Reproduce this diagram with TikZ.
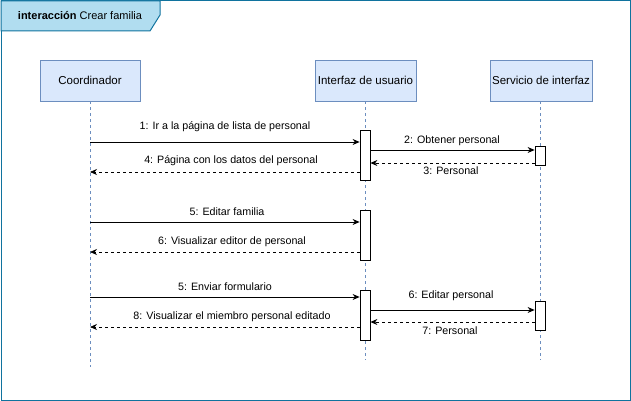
\documentclass[tikz,border=0pt]{standalone}
\usepackage{fontspec}
\setmainfont{Liberation Sans}
\usetikzlibrary{arrows.meta}
\definecolor{frameStroke}{HTML}{10739E}
\definecolor{frameFill}{HTML}{B1DDF0}
\definecolor{llFill}{HTML}{DAE8FC}
\definecolor{llStroke}{HTML}{6C8EBF}
\tikzset{
  head/.style={draw=llStroke, fill=llFill, line width=0.8pt, minimum height=41pt, inner sep=0pt, font=\fontsize{11.5}{14}\selectfont},
  actbox/.style={draw=black, fill=white, line width=0.8pt, minimum width=10pt, inner sep=0pt},
  lifeline/.style={draw=llStroke, line width=0.6pt, dash pattern=on 3pt off 3pt},
  msg/.style={draw=black, line width=0.8pt, -{Stealth[length=7pt,width=6pt]}},
  ret/.style={msg, dash pattern=on 3pt off 3pt},
  lbl/.style={font=\fontsize{10.7}{13}\selectfont, inner sep=0pt}
}
\begin{document}
\begin{tikzpicture}[x=1pt,y=-1pt]
\useasboundingbox (0,0) rectangle (631,401);
\draw[frameStroke, line width=1pt] (1,1) rectangle (630,400);
\draw[draw=frameStroke, fill=frameFill, line width=1pt] (1,1) -- (160,1) -- (160,15) -- (150,31) -- (1,31) -- cycle;
\node[font=\fontsize{11}{13}\selectfont, inner sep=0pt] (title) at (80,16) {\textbf{interacción} Crear familia};

% heads
\node[head, minimum width=100pt] (coord) at (90,80.5) {Coordinador};
\node[head, minimum width=101pt] (ui) at (365.5,80.5) {Interfaz de usuario};
\node[head, minimum width=102pt] (srv) at (541,80.5) {Servicio de interfaz};

% lifelines
\coordinate (coordEnd) at (90,367);
\coordinate (uiEnd) at (365,360);
\coordinate (srvEnd) at (540,360);
\draw[lifeline] (coord.south) -- (coordEnd);
\draw[lifeline] (ui.south -| uiEnd) -- (uiEnd);
\draw[lifeline] (srv.south -| srvEnd) -- (srvEnd);

% activation boxes
\node[actbox, minimum height=50pt] (a1) at (365,155) {};
\node[actbox, minimum height=19pt] (s1) at (540,155.5) {};
\node[actbox, minimum height=50pt] (a2) at (365,235.5) {};
\node[actbox, minimum height=50pt] (a3) at (365,315.5) {};
\node[actbox, minimum height=29pt] (s2) at (540,315.5) {};

% coordinates on coordinator lifeline
\coordinate (c1) at (90,142);
\coordinate (c4) at (90,172);
\coordinate (c5) at (90,222);
\coordinate (c6) at (90,252);
\coordinate (c7) at (90,297);
\coordinate (c8) at (90,327);
\coordinate (u2) at (370,150);
\coordinate (u3) at (370,163);
\coordinate (u6) at (370,310);
\coordinate (u7) at (370,322);

% messages
\draw[msg] (c1) -- (a1.west |- c1);
\draw[ret] (a1.west |- c4) -- (c4);
\draw[msg] (a1.east |- u2) -- (s1.west |- u2);
\draw[ret] (s1.west |- u3) -- (a1.east |- u3);
\draw[msg] (c5) -- (a2.west |- c5);
\draw[ret] (a2.west |- c6) -- (c6);
\draw[msg] (c7) -- (a3.west |- c7);
\draw[ret] (a3.west |- c8) -- (c8);
\draw[msg] (a3.east |- u6) -- (s2.west |- u6);
\draw[ret] (s2.west |- u7) -- (a3.east |- u7);

% labels
\node[lbl] (l1) at (225,127) {1: Ir a la página de lista de personal};
\node[lbl] (l4) at (231,161) {4: Página con los datos del personal};
\node[lbl] (l2) at (452,141) {2: Obtener personal};
\node[lbl] (l3) at (451,171) {3: Personal};
\node[lbl] (l5) at (227,212) {5: Editar familia};
\node[lbl] (l6) at (232,242) {6: Visualizar editor de personal};
\node[lbl] (l7) at (225,287) {5: Enviar formulario};
\node[lbl] (l8) at (232,317) {8: Visualizar el miembro personal editado};
\node[lbl] (l9) at (451,296) {6: Editar personal};
\node[lbl] (l10) at (450,331) {7: Personal};
\end{tikzpicture}
\end{document}
